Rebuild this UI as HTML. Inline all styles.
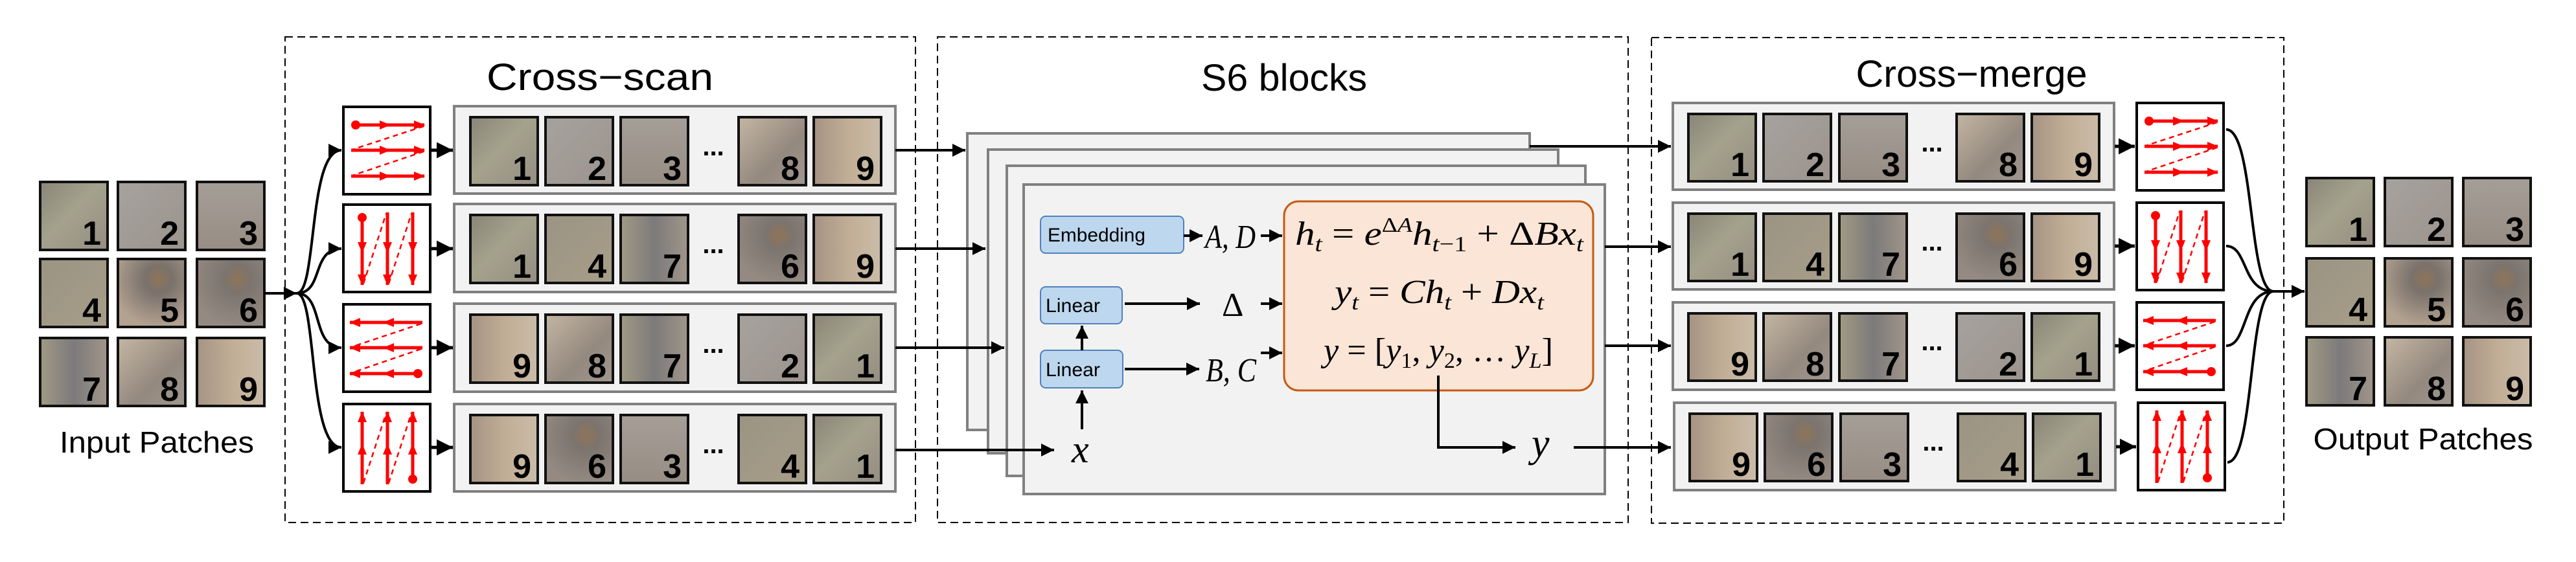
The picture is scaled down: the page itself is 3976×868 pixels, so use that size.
<!DOCTYPE html>
<html><head><meta charset="utf-8"><style>
html,body{margin:0;padding:0;background:#fff;width:3976px;height:868px;overflow:hidden}
svg{display:block}
.t{font-family:"Liberation Sans",Arial,sans-serif}
.n{font-family:"Liberation Sans",Arial,sans-serif;font-weight:bold;font-size:52px;fill:#000}
.m{font-family:"Liberation Serif","DejaVu Serif",serif;font-style:italic;fill:#000}
</style></head><body>
<svg width="3976" height="868" viewBox="0 0 3976 868" xmlns="http://www.w3.org/2000/svg">
<defs>
<marker id="ah" markerWidth="6" markerHeight="6" refX="5" refY="3" orient="auto" markerUnits="strokeWidth"><path d="M0,0.5 L5,3 L0,5.5z" fill="#000"/></marker>
<marker id="rh" markerWidth="18" markerHeight="18" refX="16" refY="9" orient="auto" markerUnits="userSpaceOnUse"><path d="M0,2 L17,9 L0,16z" fill="#f00"/></marker>
<linearGradient id="g1" x1="0" y1="0" x2="1" y2="1"><stop offset="0" stop-color="#8a8578"/><stop offset=".45" stop-color="#a4a28c"/><stop offset="1" stop-color="#958d82"/></linearGradient>
<linearGradient id="g2" x1="0" y1="0" x2="1" y2="1"><stop offset="0" stop-color="#a6a29e"/><stop offset="1" stop-color="#9c948d"/></linearGradient>
<linearGradient id="g3" x1="0" y1="0" x2="0" y2="1"><stop offset="0" stop-color="#a59e97"/><stop offset="1" stop-color="#978d84"/></linearGradient>
<linearGradient id="g4" x1="0" y1="0" x2="1" y2="1"><stop offset="0" stop-color="#9c9484"/><stop offset="1" stop-color="#a69e88"/></linearGradient>
<radialGradient id="g5" cx=".6" cy=".3" r=".7"><stop offset="0" stop-color="#8e7458"/><stop offset=".3" stop-color="#7a726c"/><stop offset="1" stop-color="#b3a290"/></radialGradient>
<radialGradient id="g6" cx=".6" cy=".3" r=".7"><stop offset="0" stop-color="#8e7458"/><stop offset=".3" stop-color="#7c746e"/><stop offset="1" stop-color="#948a82"/></radialGradient>
<linearGradient id="g7" x1="0" y1="0" x2="1" y2="0"><stop offset="0" stop-color="#a09a84"/><stop offset=".5" stop-color="#7c7a7b"/><stop offset="1" stop-color="#a0958a"/></linearGradient>
<linearGradient id="g8" x1="0" y1="0" x2="1" y2="1"><stop offset="0" stop-color="#c4b6a3"/><stop offset=".6" stop-color="#94897f"/><stop offset="1" stop-color="#a0978f"/></linearGradient>
<linearGradient id="g9" x1="0" y1="0" x2="1" y2="0"><stop offset="0" stop-color="#a59384"/><stop offset=".5" stop-color="#c1ad95"/><stop offset="1" stop-color="#cabca9"/></linearGradient>

<g id="ih" fill="none" stroke="#f00" stroke-width="5">
<rect x="0" y="0" width="134" height="135" fill="#fff" stroke="#000" stroke-width="4"/>
<line x1="19" y1="28" x2="125" y2="28" marker-end="url(#rh)"/><line x1="19" y1="28" x2="72" y2="28" marker-end="url(#rh)"/>
<line x1="12" y1="67" x2="125" y2="67" marker-end="url(#rh)"/><line x1="12" y1="67" x2="72" y2="67" marker-end="url(#rh)"/>
<line x1="12" y1="107" x2="125" y2="107" marker-end="url(#rh)"/><line x1="12" y1="107" x2="72" y2="107" marker-end="url(#rh)"/>
<path d="M124,30 L14,66 M124,69 L14,106" stroke-width="2.5" stroke-dasharray="8,6"/>
<circle cx="19" cy="28" r="7" fill="#f00" stroke="none"/>
</g>
<g id="iv" fill="none" stroke="#f00" stroke-width="5">
<rect x="0" y="0" width="134" height="135" fill="#fff" stroke="#000" stroke-width="4"/>
<line x1="29" y1="20" x2="29" y2="124" marker-end="url(#rh)"/><line x1="29" y1="20" x2="29" y2="74" marker-end="url(#rh)"/>
<line x1="68" y1="12" x2="68" y2="124" marker-end="url(#rh)"/><line x1="68" y1="12" x2="68" y2="74" marker-end="url(#rh)"/>
<line x1="107" y1="12" x2="107" y2="124" marker-end="url(#rh)"/><line x1="107" y1="12" x2="107" y2="74" marker-end="url(#rh)"/>
<path d="M31,122 L66,14 M70,122 L105,14" stroke-width="2.5" stroke-dasharray="8,6"/>
<circle cx="29" cy="20" r="7" fill="#f00" stroke="none"/>
</g>
<g id="ihr" fill="none" stroke="#f00" stroke-width="5">
<rect x="0" y="0" width="134" height="135" fill="#fff" stroke="#000" stroke-width="4"/>
<line x1="122" y1="28" x2="10" y2="28" marker-end="url(#rh)"/><line x1="122" y1="28" x2="62" y2="28" marker-end="url(#rh)"/>
<line x1="122" y1="67" x2="10" y2="67" marker-end="url(#rh)"/><line x1="122" y1="67" x2="62" y2="67" marker-end="url(#rh)"/>
<line x1="115" y1="107" x2="10" y2="107" marker-end="url(#rh)"/><line x1="115" y1="107" x2="62" y2="107" marker-end="url(#rh)"/>
<path d="M120,30 L12,66 M120,69 L12,106" stroke-width="2.5" stroke-dasharray="8,6"/>
<circle cx="115" cy="107" r="7" fill="#f00" stroke="none"/>
</g>
<g id="ivr" fill="none" stroke="#f00" stroke-width="5">
<rect x="0" y="0" width="134" height="135" fill="#fff" stroke="#000" stroke-width="4"/>
<line x1="29" y1="124" x2="29" y2="12" marker-end="url(#rh)"/><line x1="29" y1="124" x2="29" y2="62" marker-end="url(#rh)"/>
<line x1="68" y1="124" x2="68" y2="12" marker-end="url(#rh)"/><line x1="68" y1="124" x2="68" y2="62" marker-end="url(#rh)"/>
<line x1="107" y1="116" x2="107" y2="12" marker-end="url(#rh)"/><line x1="107" y1="116" x2="107" y2="62" marker-end="url(#rh)"/>
<path d="M31,122 L66,14 M70,122 L105,14" stroke-width="2.5" stroke-dasharray="8,6"/>
<circle cx="107" cy="116" r="7" fill="#f00" stroke="none"/>
</g>
</defs>

<g fill="none" stroke="#000" stroke-width="2" stroke-dasharray="12,7">
<rect x="440" y="57" width="973" height="750"/>
<rect x="1447" y="57" width="1066" height="750"/>
<rect x="2549" y="58" width="976" height="750"/>
</g>
<g class="t" font-size="58" text-anchor="middle" fill="#000">
<text x="926" y="139" textLength="350" lengthAdjust="spacingAndGlyphs">Cross−scan</text>
<text x="1982" y="140" textLength="256" lengthAdjust="spacingAndGlyphs">S6 blocks</text>
<text x="3043" y="134" textLength="357" lengthAdjust="spacingAndGlyphs">Cross−merge</text>
<text x="242" y="699" font-size="46" textLength="300" lengthAdjust="spacingAndGlyphs">Input Patches</text>
<text x="3740" y="694" font-size="46" textLength="339" lengthAdjust="spacingAndGlyphs">Output Patches</text>
</g>

<g stroke="#111" stroke-width="4">
<rect x="62" y="281" width="104" height="105" fill="url(#g1)"/><rect x="182" y="281" width="104" height="105" fill="url(#g2)"/><rect x="304" y="281" width="104" height="105" fill="url(#g3)"/>
<rect x="62" y="400" width="104" height="105" fill="url(#g4)"/><rect x="182" y="400" width="104" height="105" fill="url(#g5)"/><rect x="304" y="400" width="104" height="105" fill="url(#g6)"/>
<rect x="62" y="522" width="104" height="105" fill="url(#g7)"/><rect x="182" y="522" width="104" height="105" fill="url(#g8)"/><rect x="304" y="522" width="104" height="105" fill="url(#g9)"/>
</g>
<g class="n" text-anchor="end">
<text x="156" y="378">1</text><text x="276" y="378">2</text><text x="398" y="378">3</text>
<text x="156" y="497">4</text><text x="276" y="497">5</text><text x="398" y="497">6</text>
<text x="156" y="619">7</text><text x="276" y="619">8</text><text x="398" y="619">9</text>
</g>

<g fill="none" stroke="#000" stroke-width="4">
<line x1="408" y1="453" x2="458" y2="453" marker-end="url(#ah)"/>
<path d="M458,453 C490,453 475,232 527,232" marker-end="url(#ah)"/>
<path d="M458,453 C500,453 480,384 527,384" marker-end="url(#ah)"/>
<path d="M458,453 C500,453 480,537 527,537" marker-end="url(#ah)"/>
<path d="M458,453 C490,453 475,691 527,691" marker-end="url(#ah)"/>
</g>
<use href="#ih" x="530" y="165"/>
<use href="#iv" x="530" y="316"/>
<use href="#ihr" x="530" y="470"/>
<use href="#ivr" x="530" y="624"/>
<g stroke="#000" stroke-width="5" fill="none">
<line x1="666" y1="232" x2="699" y2="232" marker-end="url(#ah)"/>
<line x1="666" y1="384" x2="699" y2="384" marker-end="url(#ah)"/>
<line x1="666" y1="537" x2="699" y2="537" marker-end="url(#ah)"/>
<line x1="666" y1="691" x2="699" y2="691" marker-end="url(#ah)"/>
</g>

<g fill="#f2f2f2" stroke="#808080" stroke-width="4">
<rect x="701" y="164" width="681" height="135"/>
<rect x="701" y="315" width="681" height="136"/>
<rect x="701" y="469" width="681" height="136"/>
<rect x="701" y="624" width="681" height="135"/>
<rect x="2582" y="159" width="681" height="134"/>
<rect x="2582" y="313" width="681" height="134"/>
<rect x="2582" y="467" width="681" height="135"/>
<rect x="2584" y="622" width="681" height="135"/>
</g>
<g stroke="#111" stroke-width="4">
<rect x="726" y="181" width="104" height="105" fill="url(#g1)"/><rect x="842" y="181" width="104" height="105" fill="url(#g2)"/><rect x="958" y="181" width="104" height="105" fill="url(#g3)"/><rect x="1140" y="181" width="104" height="105" fill="url(#g8)"/><rect x="1256" y="181" width="104" height="105" fill="url(#g9)"/>
<rect x="726" y="332" width="104" height="105" fill="url(#g1)"/><rect x="842" y="332" width="104" height="105" fill="url(#g4)"/><rect x="958" y="332" width="104" height="105" fill="url(#g7)"/><rect x="1140" y="332" width="104" height="105" fill="url(#g6)"/><rect x="1256" y="332" width="104" height="105" fill="url(#g9)"/>
<rect x="726" y="486" width="104" height="105" fill="url(#g9)"/><rect x="842" y="486" width="104" height="105" fill="url(#g8)"/><rect x="958" y="486" width="104" height="105" fill="url(#g7)"/><rect x="1140" y="486" width="104" height="105" fill="url(#g2)"/><rect x="1256" y="486" width="104" height="105" fill="url(#g1)"/>
<rect x="726" y="641" width="104" height="105" fill="url(#g9)"/><rect x="842" y="641" width="104" height="105" fill="url(#g6)"/><rect x="958" y="641" width="104" height="105" fill="url(#g3)"/><rect x="1140" y="641" width="104" height="105" fill="url(#g4)"/><rect x="1256" y="641" width="104" height="105" fill="url(#g1)"/>

<rect x="2606" y="176" width="104" height="104" fill="url(#g1)"/><rect x="2722" y="176" width="104" height="104" fill="url(#g2)"/><rect x="2839" y="176" width="104" height="104" fill="url(#g3)"/><rect x="3020" y="176" width="104" height="104" fill="url(#g8)"/><rect x="3136" y="176" width="104" height="104" fill="url(#g9)"/>
<rect x="2606" y="330" width="104" height="104" fill="url(#g1)"/><rect x="2722" y="330" width="104" height="104" fill="url(#g4)"/><rect x="2839" y="330" width="104" height="104" fill="url(#g7)"/><rect x="3020" y="330" width="104" height="104" fill="url(#g6)"/><rect x="3136" y="330" width="104" height="104" fill="url(#g9)"/>
<rect x="2606" y="484" width="104" height="104" fill="url(#g9)"/><rect x="2722" y="484" width="104" height="104" fill="url(#g8)"/><rect x="2839" y="484" width="104" height="104" fill="url(#g7)"/><rect x="3020" y="484" width="104" height="104" fill="url(#g2)"/><rect x="3136" y="484" width="104" height="104" fill="url(#g1)"/>
<rect x="2608" y="639" width="104" height="104" fill="url(#g9)"/><rect x="2724" y="639" width="104" height="104" fill="url(#g6)"/><rect x="2841" y="639" width="104" height="104" fill="url(#g3)"/><rect x="3022" y="639" width="104" height="104" fill="url(#g4)"/><rect x="3138" y="639" width="104" height="104" fill="url(#g1)"/>

<rect x="3560" y="275" width="104" height="105" fill="url(#g1)"/><rect x="3681" y="275" width="104" height="105" fill="url(#g2)"/><rect x="3802" y="275" width="104" height="105" fill="url(#g3)"/>
<rect x="3560" y="399" width="104" height="105" fill="url(#g4)"/><rect x="3681" y="399" width="104" height="105" fill="url(#g5)"/><rect x="3802" y="399" width="104" height="105" fill="url(#g6)"/>
<rect x="3560" y="521" width="104" height="105" fill="url(#g7)"/><rect x="3681" y="521" width="104" height="105" fill="url(#g8)"/><rect x="3802" y="521" width="104" height="105" fill="url(#g9)"/>
</g>
<g class="n" text-anchor="end">
<text x="820" y="278">1</text><text x="936" y="278">2</text><text x="1052" y="278">3</text><text x="1234" y="278">8</text><text x="1350" y="278">9</text>
<text x="820" y="429">1</text><text x="936" y="429">4</text><text x="1052" y="429">7</text><text x="1234" y="429">6</text><text x="1350" y="429">9</text>
<text x="820" y="583">9</text><text x="936" y="583">8</text><text x="1052" y="583">7</text><text x="1234" y="583">2</text><text x="1350" y="583">1</text>
<text x="820" y="738">9</text><text x="936" y="738">6</text><text x="1052" y="738">3</text><text x="1234" y="738">4</text><text x="1350" y="738">1</text>

<text x="2700" y="272">1</text><text x="2816" y="272">2</text><text x="2933" y="272">3</text><text x="3114" y="272">8</text><text x="3230" y="272">9</text>
<text x="2700" y="426">1</text><text x="2816" y="426">4</text><text x="2933" y="426">7</text><text x="3114" y="426">6</text><text x="3230" y="426">9</text>
<text x="2700" y="580">9</text><text x="2816" y="580">8</text><text x="2933" y="580">7</text><text x="3114" y="580">2</text><text x="3230" y="580">1</text>
<text x="2702" y="735">9</text><text x="2818" y="735">6</text><text x="2935" y="735">3</text><text x="3116" y="735">4</text><text x="3232" y="735">1</text>

<text x="3654" y="372">1</text><text x="3775" y="372">2</text><text x="3896" y="372">3</text>
<text x="3654" y="496">4</text><text x="3775" y="496">5</text><text x="3896" y="496">6</text>
<text x="3654" y="618">7</text><text x="3775" y="618">8</text><text x="3896" y="618">9</text>
</g>
<g class="t" font-size="40" font-weight="bold" text-anchor="middle">
<text x="1101" y="240">...</text><text x="1101" y="391">...</text><text x="1101" y="545">...</text><text x="1101" y="700">...</text>
<text x="2982" y="234">...</text><text x="2982" y="387">...</text><text x="2982" y="541">...</text><text x="2984" y="696">...</text>
</g>

<g fill="#f2f2f2" stroke="#808080" stroke-width="4">
<rect x="1493" y="206" width="868" height="458"/>
<rect x="1525" y="231" width="880" height="469"/>
<rect x="1554" y="256" width="893" height="479"/>
<rect x="1580" y="285" width="897" height="478"/>
</g>
<g stroke="#000" stroke-width="4" fill="none">
<line x1="1382" y1="232" x2="1490" y2="232" marker-end="url(#ah)"/>
<line x1="1382" y1="384" x2="1521" y2="384" marker-end="url(#ah)"/>
<line x1="1382" y1="537" x2="1550" y2="537" marker-end="url(#ah)"/>
<line x1="1382" y1="695" x2="1627" y2="695" marker-end="url(#ah)"/>
<line x1="2361" y1="226" x2="2579" y2="226" marker-end="url(#ah)"/>
<line x1="2477" y1="381" x2="2579" y2="381" marker-end="url(#ah)"/>
<line x1="2477" y1="534" x2="2579" y2="534" marker-end="url(#ah)"/>
<line x1="2429" y1="691" x2="2579" y2="691" marker-end="url(#ah)"/>
</g>
<g fill="#bdd7ee" stroke="#4f81bd" stroke-width="2">
<rect x="1606" y="334" width="221" height="57" rx="8"/>
<rect x="1606" y="443" width="126" height="57" rx="8"/>
<rect x="1606" y="541" width="127" height="58" rx="8"/>
</g>
<g class="t" font-size="30" fill="#000">
<text x="1617" y="373" textLength="151" lengthAdjust="spacingAndGlyphs">Embedding</text>
<text x="1614" y="482" textLength="84" lengthAdjust="spacingAndGlyphs">Linear</text>
<text x="1614" y="581" textLength="84" lengthAdjust="spacingAndGlyphs">Linear</text>
</g>
<rect x="1982" y="311" width="477" height="292" rx="22" fill="#fbe5d6" stroke="#c55a11" stroke-width="3"/>
<g stroke="#000" stroke-width="4" fill="none">
<line x1="1827" y1="364" x2="1856" y2="364" marker-end="url(#ah)"/>
<line x1="1946" y1="364" x2="1979" y2="364" marker-end="url(#ah)"/>
<line x1="1736" y1="469" x2="1852" y2="469" marker-end="url(#ah)"/>
<line x1="1946" y1="469" x2="1979" y2="469" marker-end="url(#ah)"/>
<line x1="1736" y1="570" x2="1851" y2="570" marker-end="url(#ah)"/>
<line x1="1946" y1="545" x2="1979" y2="545" marker-end="url(#ah)"/>
<line x1="1670" y1="541" x2="1670" y2="503" marker-end="url(#ah)"/>
<line x1="1670" y1="663" x2="1670" y2="603" marker-end="url(#ah)"/>
<polyline points="2220,580 2220,691 2339,691" marker-end="url(#ah)"/>
</g>
<g class="m" font-size="52">
<text x="1860" y="383" textLength="78" lengthAdjust="spacingAndGlyphs">A, D</text>
<text x="1886" y="488" font-style="normal">Δ</text>
<text x="1861" y="589" textLength="78" lengthAdjust="spacingAndGlyphs">B, C</text>
<text x="1654" y="714" font-size="60">x</text>
<text x="2364" y="705" font-size="62">y</text>
<text x="1999" y="378" textLength="445" lengthAdjust="spacingAndGlyphs">h<tspan font-size="34" dy="10">t</tspan><tspan dy="-10" font-style="normal"> = </tspan>e<tspan font-size="32" dy="-20" font-style="normal">Δ</tspan><tspan font-size="32">A</tspan><tspan dy="20">h</tspan><tspan font-size="34" dy="10">t</tspan><tspan font-size="34" font-style="normal">−1</tspan><tspan dy="-10" font-style="normal"> + Δ</tspan>Bx<tspan font-size="34" dy="10">t</tspan></text>
<text x="2060" y="468" textLength="323" lengthAdjust="spacingAndGlyphs">y<tspan font-size="34" dy="10">t</tspan><tspan dy="-10" font-style="normal"> = </tspan>Ch<tspan font-size="34" dy="10">t</tspan><tspan dy="-10" font-style="normal"> + </tspan>Dx<tspan font-size="34" dy="10">t</tspan></text>
<text x="2043" y="558" textLength="354" lengthAdjust="spacingAndGlyphs">y<tspan font-style="normal"> = [</tspan>y<tspan font-size="34" dy="10" font-style="normal">1</tspan><tspan dy="-10" font-style="normal">, </tspan>y<tspan font-size="34" dy="10" font-style="normal">2</tspan><tspan dy="-10" font-style="normal">, … </tspan>y<tspan font-size="34" dy="10">L</tspan><tspan dy="-10" font-style="normal">]</tspan></text>
</g>

<g stroke="#000" stroke-width="5" fill="none">
<line x1="3264" y1="226" x2="3295" y2="226" marker-end="url(#ah)"/>
<line x1="3264" y1="380" x2="3295" y2="380" marker-end="url(#ah)"/>
<line x1="3264" y1="534" x2="3295" y2="534" marker-end="url(#ah)"/>
<line x1="3266" y1="690" x2="3297" y2="690" marker-end="url(#ah)"/>
</g>
<use href="#ih" x="3298" y="159"/>
<use href="#iv" x="3298" y="313"/>
<use href="#ihr" x="3298" y="467"/>
<use href="#ivr" x="3300" y="622"/>
<g fill="none" stroke="#000" stroke-width="4">
<path d="M3436,200 C3480,200 3470,450 3509,450"/>
<path d="M3436,380 C3470,380 3460,450 3509,450"/>
<path d="M3436,534 C3470,534 3460,450 3509,450"/>
<path d="M3438,714 C3480,714 3470,450 3509,450"/>
<line x1="3509" y1="450" x2="3557" y2="450" marker-end="url(#ah)"/>
</g>
</svg>
</body></html>
